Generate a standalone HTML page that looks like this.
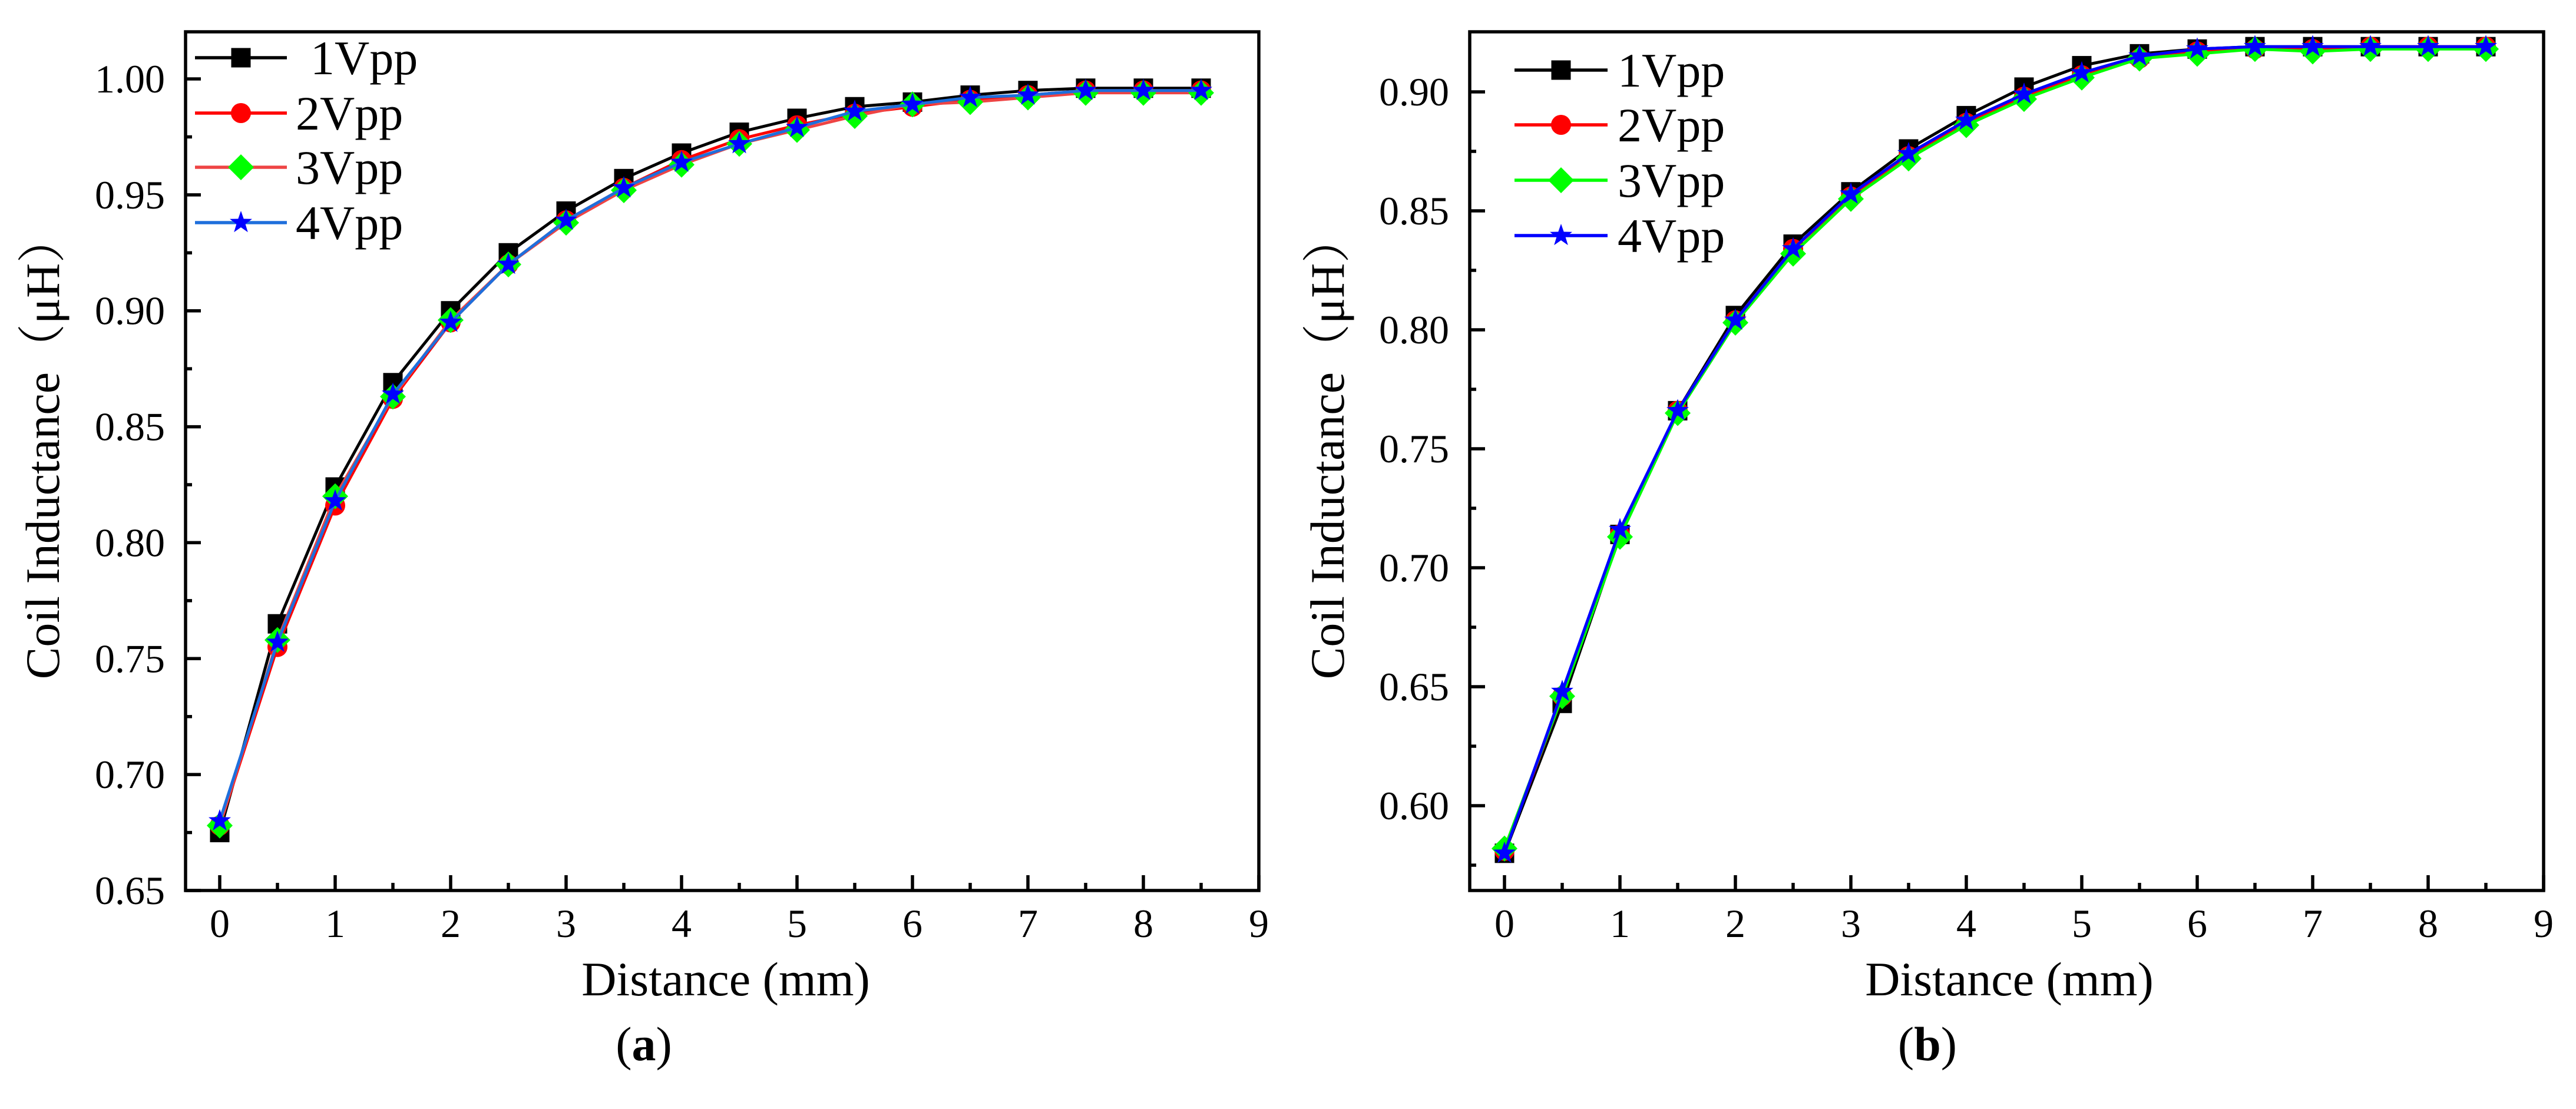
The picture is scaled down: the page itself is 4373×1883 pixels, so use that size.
<!DOCTYPE html>
<html><head><meta charset="utf-8">
<style>
html,body{margin:0;padding:0;background:#fff;}
svg{display:block;font-family:"Liberation Serif","Noto Serif CJK SC",serif;}
</style></head>
<body>
<svg id="fig" width="4373" height="1883" viewBox="0 0 4373 1883" xmlns="http://www.w3.org/2000/svg">
<rect width="4373" height="1883" fill="#fff"/>
</svg>
<script>
const distances=[0,0.5,1,1.5,2,2.5,3,3.5,4,4.5,5,5.5,6,6.5,7,7.5,8,8.5];
const seriesNames=["1Vpp","2Vpp","3Vpp","4Vpp"];
const a1Vpp=[0.675,0.765,0.824,0.869,0.900,0.925,0.943,0.957,0.968,0.977,0.983,0.988,0.990,0.993,0.995,0.996,0.996,0.996];
const a2Vpp=[0.678,0.755,0.816,0.862,0.895,0.920,0.939,0.953,0.965,0.974,0.980,0.985,0.988,0.991,0.993,0.995,0.995,0.995];
const a3Vpp=[0.678,0.758,0.820,0.863,0.896,0.920,0.938,0.952,0.963,0.972,0.978,0.984,0.989,0.990,0.992,0.994,0.994,0.994];
const a4Vpp=[0.680,0.757,0.818,0.864,0.895,0.920,0.939,0.953,0.964,0.972,0.979,0.986,0.989,0.992,0.993,0.995,0.995,0.995];
const b1Vpp=[0.580,0.643,0.714,0.766,0.806,0.836,0.858,0.876,0.890,0.902,0.911,0.916,0.918,0.919,0.919,0.919,0.919,0.919];
const b2Vpp=[0.581,0.646,0.714,0.766,0.804,0.834,0.856,0.873,0.887,0.898,0.907,0.914,0.917,0.918,0.918,0.919,0.919,0.919];
const b3Vpp=[0.582,0.646,0.713,0.765,0.803,0.832,0.855,0.872,0.886,0.897,0.906,0.914,0.916,0.918,0.917,0.918,0.918,0.918];
const b4Vpp=[0.580,0.648,0.716,0.766,0.804,0.834,0.857,0.874,0.888,0.899,0.908,0.915,0.918,0.919,0.919,0.919,0.919,0.919];
const xTicks=[0,1,2,3,4,5,6,7,8,9];
const aYTicks=["0.65","0.70","0.75","0.80","0.85","0.90","0.95","1.00"];
const bYTicks=["0.60","0.65","0.70","0.75","0.80","0.85","0.90"];

const NS="http://www.w3.org/2000/svg";
const svg=document.getElementById('fig');
function mk(tag,attrs,parent){const e=document.createElementNS(NS,tag);for(const k in attrs)e.setAttribute(k,attrs[k]);(parent||svg).appendChild(e);return e;}

function marker(g,type,cx,cy,color){
  let e;
  if(type==='square'){e=mk('rect',{x:cx-16.5,y:cy-16.5,width:33,height:33,fill:color},g);}
  else if(type==='circle'){e=mk('circle',{cx:cx,cy:cy,r:17,fill:color},g);}
  else if(type==='diamond'){e=mk('polygon',{points:`${cx},${cy-22} ${cx+22},${cy} ${cx},${cy+22} ${cx-22},${cy}`,fill:color},g);}
  else {let p=[];for(let i=0;i<10;i++){const r=i%2?8:20;const a=-Math.PI/2+i*Math.PI/5;p.push((cx+r*Math.cos(a)).toFixed(1)+','+(cy+r*Math.sin(a)).toFixed(1));}
    e=mk('polygon',{points:p.join(' '),fill:color},g);}
  return e;
}

function panel(cfg){
  const g=mk('g',{});
  
  
  const L=cfg.left,R=cfg.right,T=54,B=1512;
  const xs=v=>cfg.x0+v*196;
  const ys=v=>cfg.y0px+(cfg.y0val-v)*cfg.perUnit;
  // series
  const types=['square','circle','diamond','star'];
  cfg.series.forEach((arr,si)=>{
    const sg=mk('g',{},g);
    
    
    const pts=arr.map((v,i)=>xs(distances[i]).toFixed(1)+','+ys(v).toFixed(1)).join(' ');
    const pl=mk('polyline',{points:pts,fill:'none',stroke:cfg.lineColors[si],'stroke-width':5,'stroke-linejoin':'round'},sg);
    
    
    arr.forEach((v,i)=>{const m=marker(sg,types[si],xs(distances[i]),ys(v),cfg.markColors[si]);
      
      });
  });
  // frame
  const fr=mk('rect',{x:L,y:T,width:R-L,height:B-T,fill:'none',stroke:'#000','stroke-width':5.5},g);
  
  
  // x ticks
  xTicks.forEach(t=>{
    const x=xs(t);
    mk('line',{x1:x,y1:B,x2:x,y2:B-26,stroke:'#000','stroke-width':5.5},g);
    if(t<9) mk('line',{x1:x+98,y1:B,x2:x+98,y2:B-13,stroke:'#000','stroke-width':5.5},g);
    const tx=mk('text',{x:x,y:1591,'font-size':68,'text-anchor':'middle',fill:'#000'},g);
    tx.textContent=t;
    
    
  });
  // y ticks
  cfg.yTicks.forEach(s=>{
    const v=parseFloat(s);const y=ys(v);
    mk('line',{x1:L,y1:y,x2:L+26,y2:y,stroke:'#000','stroke-width':5.5},g);
    const my=ys(v+0.025);
    if(my>T+5) mk('line',{x1:L,y1:my,x2:L+11,y2:my,stroke:'#000','stroke-width':5.5},g);
    const tx=mk('text',{x:L-35,y:y+23,'font-size':68,'text-anchor':'end',fill:'#000'},g);
    tx.textContent=s;
    
    
  });
  const my0=ys(parseFloat(cfg.yTicks[0])-0.025);
  if(my0<B-5) mk('line',{x1:L,y1:my0,x2:L+11,y2:my0,stroke:'#000','stroke-width':5.5},g);
  // legend
  const lg=mk('g',{},g);
  
  
  cfg.legRows.forEach((y,i)=>{
    const e=mk('g',{},lg);
    
    
    mk('line',{x1:cfg.legX1,y1:y,x2:cfg.legX2,y2:y,stroke:cfg.lineColors[i],'stroke-width':5.5},e);
    marker(e,types[i],(cfg.legX1+cfg.legX2)/2,y,cfg.markColors[i]);
    const t=mk('text',{x:cfg.legTextX[i],y:y+28,'font-size':82,fill:'#000'},e);
    t.textContent=seriesNames[i];
  });
  // titles
  const xt=mk('text',{x:cfg.xTitleX,y:1690,'font-size':82,'text-anchor':'middle',fill:'#000'},g);
  xt.textContent='Distance (mm)';
  
  
  const yt=mk('text',{x:0,y:0,'font-size':82,'text-anchor':'middle',fill:'#000',transform:`translate(${cfg.yTitleX},759) rotate(-90)`},g);
  yt.textContent='Coil Inductance（μH）';
  
  
  const cap=mk('text',{x:cfg.capX,y:1800,'font-size':82,'text-anchor':'middle',fill:'#000'},g);
  cap.innerHTML='(<tspan font-weight="bold">'+cfg.cap+'</tspan>)';
  
  
}

panel({name:'panel-a',left:315,right:2137,x0:373,y0px:134,y0val:1.00,perUnit:(1512-134)/0.35,
  series:[a1Vpp,a2Vpp,a3Vpp,a4Vpp],yTicks:aYTicks,
  lineColors:['#000000','#ff0000','#ee4444','#1e6fdc'],markColors:['#000000','#ff0000','#00ff00','#0000ff'],
  legRows:[98,192,284,378],legX1:331,legX2:487,legTextX:[527,502,502,502],
  xTitleX:1232,yTitleX:100,capX:1093,cap:'a'});
panel({name:'panel-b',left:2495,right:4318,x0:2554,y0px:156,y0val:0.90,perUnit:4040,
  series:[b1Vpp,b2Vpp,b3Vpp,b4Vpp],yTicks:bYTicks,
  lineColors:['#000000','#ff0000','#00ff00','#0000ff'],markColors:['#000000','#ff0000','#00ff00','#0000ff'],
  legRows:[119,212,306,400],legX1:2571,legX2:2729,legTextX:[2746,2746,2746,2746],
  xTitleX:3411,yTitleX:2281,capX:3272,cap:'b'});
</script>
</body></html>
